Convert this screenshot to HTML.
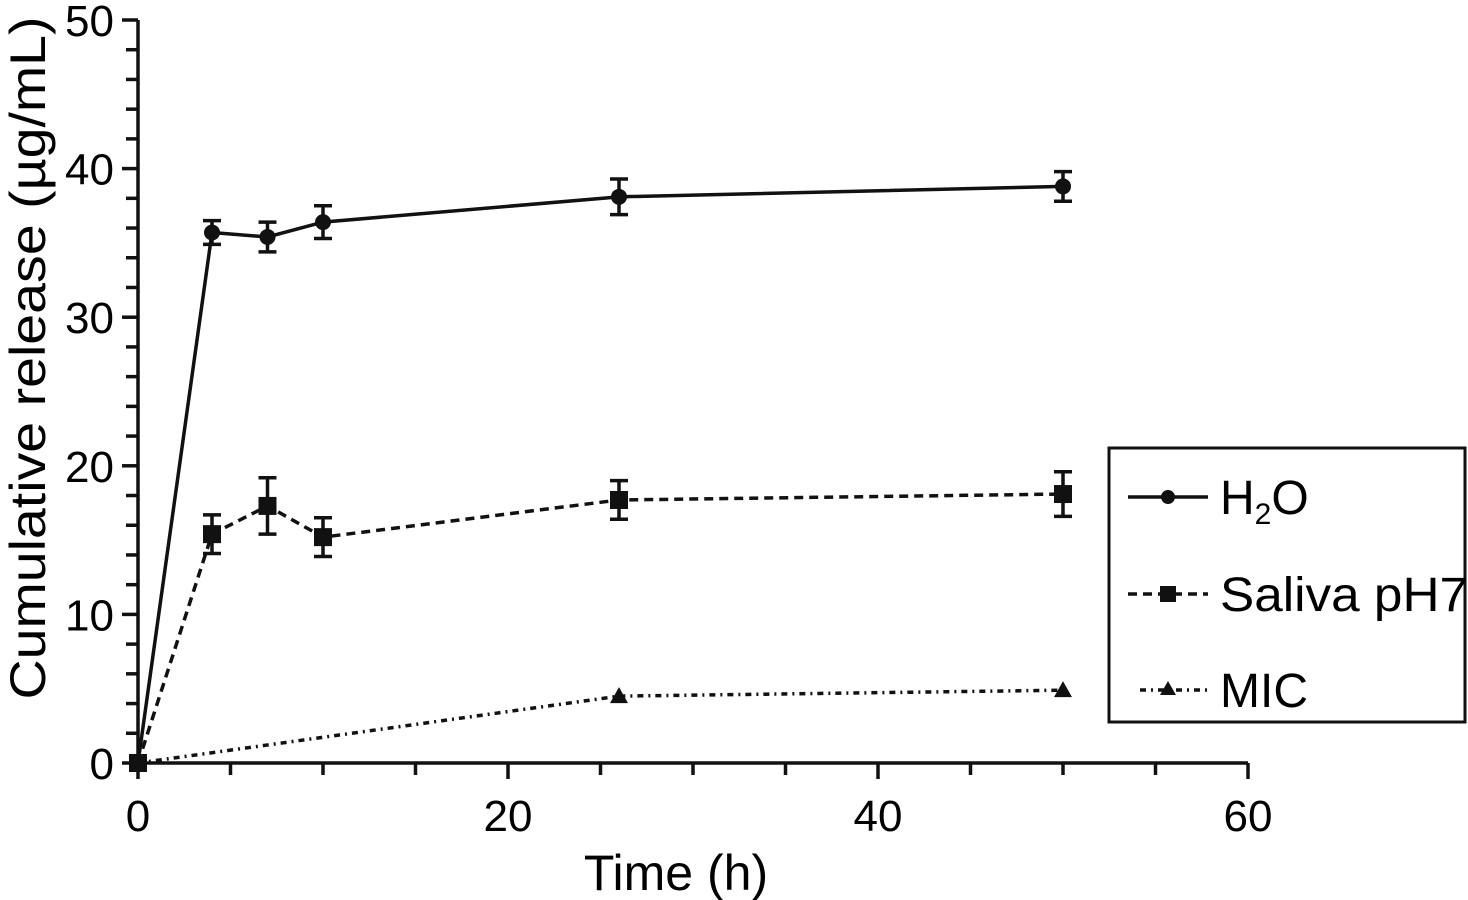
<!DOCTYPE html>
<html><head><meta charset="utf-8"><style>
html,body{margin:0;padding:0;background:#fff;overflow:hidden;}
svg{display:block;font-family:"Liberation Sans",Arial,sans-serif;}
</style></head><body>
<svg id="chart" width="1468" height="900" viewBox="0 0 1468 900">
<g id="axes"></g>
<g id="plot"></g>
<text x="676" y="890" font-size="50" text-anchor="middle">Time (h)</text>
<text transform="translate(45,358) rotate(-90)" font-size="50" text-anchor="middle" textLength="683" lengthAdjust="spacingAndGlyphs">Cumulative release (µg/mL)</text>
<g>
<rect x="1109" y="448" width="356" height="274" fill="#fff" stroke="#111" stroke-width="3"/>
<g>
<line x1="1128" y1="497" x2="1208" y2="497" stroke="#111" stroke-width="3.5"/>
<circle cx="1168" cy="497" r="7" fill="#111"/>
<text x="1220" y="514" font-size="48">H<tspan font-size="30" dy="10">2</tspan><tspan dy="-10">O</tspan></text>
</g>
<g>
<line x1="1128" y1="594" x2="1208" y2="594" stroke="#111" stroke-width="3.5" stroke-dasharray="9,6"/>
<rect x="1160" y="586" width="16" height="16" fill="#111"/>
<text x="1220" y="611" font-size="48" textLength="248" lengthAdjust="spacingAndGlyphs">Saliva pH7</text>
</g>
<g>
<line x1="1140" y1="690" x2="1208" y2="690" stroke="#111" stroke-width="3.5" stroke-dasharray="6,5,2,5"/>
<polygon points="1168,681 1176,695 1160,695" fill="#111"/>
<text x="1220" y="707" font-size="48">MIC</text>
</g>
</g>
</svg>
<script>
const xTicks=[0,20,40,60];
const yTicks=[0,10,20,30,40,50];
const timeH2O=[0,4,7,10,26,50];
const valH2O=[0,35.7,35.4,36.4,38.1,38.8];
const errH2O=[0,0.8,1.0,1.1,1.2,1.0];
const timeSal=[0,4,7,10,26,50];
const valSal=[0,15.4,17.3,15.2,17.7,18.1];
const errSal=[0,1.3,1.9,1.3,1.3,1.5];
const timeMIC=[0,26,50];
const valMIC=[0,4.5,4.9];

const NS="http://www.w3.org/2000/svg";
const X=v=>138+v*(1248-138)/60;
const Y=v=>763-v*(763-20)/50;
function mk(tag,attrs,parent){const e=document.createElementNS(NS,tag);for(const k in attrs)e.setAttribute(k,attrs[k]);parent.appendChild(e);return e;}
const axes=document.getElementById('axes'),plot=document.getElementById('plot');
let a=mk('line',{x1:X(0),y1:Y(0),x2:X(60),y2:Y(0),stroke:'#111','stroke-width':3.5},axes);


a=mk('line',{x1:X(0),y1:Y(0)+16,x2:X(0),y2:Y(50),stroke:'#111','stroke-width':3.5},axes);


mk('line',{x1:X(0)-16,y1:Y(0),x2:X(0),y2:Y(0),stroke:'#111','stroke-width':3.5},axes);
for(let v=5;v<=60;v+=5){const major=v%20===0;mk('line',{x1:X(v),y1:Y(0),x2:X(v),y2:Y(0)+(major?16:12),stroke:'#111','stroke-width':3.5},axes);}
for(let v=2;v<=50;v+=2){const major=v%10===0;mk('line',{x1:X(0)-(major?16:12),y1:Y(v),x2:X(0),y2:Y(v),stroke:'#111','stroke-width':3.5},axes);}
xTicks.forEach(v=>{const t=mk('text',{x:X(v),y:Y(0)+68,'font-size':44,'text-anchor':'middle'},axes);t.textContent=v;

});
yTicks.forEach(v=>{const t=mk('text',{x:X(0)-24,y:Y(v)+16,'font-size':44,'text-anchor':'end'},axes);t.textContent=v;

});
function series(ts,vs,es,dash,marker,name){
  const g=mk('g',{},plot);
  
  
  const pl=mk('polyline',{points:ts.map((t,i)=>X(t)+','+Y(vs[i])).join(' '),fill:'none',stroke:'#111','stroke-width':3.5},g);
  if(dash)pl.setAttribute('stroke-dasharray',dash);
  ts.forEach((t,i)=>{
    const x=X(t),y=Y(vs[i]);
    if(es&&es[i]>0){const y1=Y(vs[i]+es[i]),y2=Y(vs[i]-es[i]);
      mk('line',{x1:x,y1:y1,x2:x,y2:y2,stroke:'#111','stroke-width':3.5},g);
      mk('line',{x1:x-9,y1:y1,x2:x+9,y2:y1,stroke:'#111','stroke-width':3.5},g);
      mk('line',{x1:x-9,y1:y2,x2:x+9,y2:y2,stroke:'#111','stroke-width':3.5},g);}
    let m;
    if(marker==='c')m=mk('circle',{cx:x,cy:y,r:8,fill:'#111'},g);
    else if(marker==='s')m=mk('rect',{x:x-9,y:y-9,width:18,height:18,fill:'#111'},g);
    else m=mk('polygon',{points:`${x},${y-9} ${x+9},${y+7} ${x-9},${y+7}`,fill:'#111'},g);
    
    
  });
}
series(timeMIC,valMIC,null,'6,5,2,5','t','series-mic');
series(timeSal,valSal,errSal,'9,6','s','series-saliva');
series(timeH2O,valH2O,errH2O,null,'c','series-h2o');
</script>
</body></html>
